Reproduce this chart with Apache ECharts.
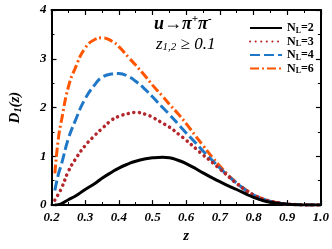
<!DOCTYPE html>
<html><head><meta charset="utf-8">
<script src="https://cdn.jsdelivr.net/npm/echarts@6/dist/echarts.min.js"></script>
<style>html,body{margin:0;padding:0;background:#fff}#c{width:332px;height:249px}</style>
</head><body><div id="c"></div>
<script>
var zValues = [0.21,0.22,0.23,0.25,0.27,0.30,0.33,0.35,0.38,0.40,0.43,0.45,0.48,0.50,0.53,0.55,0.58,0.60,0.63,0.65,0.68,0.70,0.73,0.75,0.78,0.80,0.83,0.85,0.88,0.90,0.93,0.95,0.98,1.0];
var nl2 = [0.0,0.01,0.03,0.11,0.18,0.32,0.45,0.55,0.68,0.76,0.85,0.90,0.95,0.97,0.98,0.97,0.91,0.85,0.74,0.66,0.55,0.48,0.38,0.32,0.22,0.16,0.09,0.06,0.03,0.015,0.005,0.002,0,0];
var nl3 = [0.10,0.22,0.35,0.69,0.93,1.22,1.44,1.57,1.75,1.82,1.88,1.90,1.86,1.80,1.68,1.60,1.44,1.33,1.15,1.03,0.86,0.74,0.56,0.44,0.29,0.21,0.12,0.08,0.04,0.02,0.008,0.003,0,0];
var nl4 = [0.30,0.62,0.85,1.36,1.72,2.18,2.48,2.62,2.69,2.70,2.63,2.54,2.36,2.22,2.00,1.86,1.63,1.48,1.26,1.11,0.90,0.76,0.57,0.45,0.29,0.21,0.12,0.08,0.04,0.02,0.008,0.003,0,0];
var nl6 = [0.65,1.34,1.75,2.42,2.80,3.22,3.40,3.43,3.36,3.25,3.02,2.87,2.63,2.46,2.23,2.07,1.84,1.67,1.40,1.22,0.96,0.80,0.58,0.46,0.30,0.21,0.12,0.08,0.04,0.02,0.008,0.003,0,0];
var seriesNames = ['N_L=2','N_L=3','N_L=4','N_L=6'];
var xTicks = ['0.2','0.3','0.4','0.5','0.6','0.7','0.8','0.9','1.0'];
var yTicks = ['0','1','2','3','4'];

function pairs(v){ return zValues.map(function(z,i){ return [z, v[i]]; }); }
var serif = 'Liberation Serif';
var chart = echarts.init(document.getElementById('c'), null, {renderer:'canvas'});
function axisCommon(show){
  return {
    axisLine:{show:true, onZero:false, lineStyle:{color:'#000', width:2}},
    axisTick:{show:true, inside:true, length:5, lineStyle:{color:'#000', width:1.2}},
    minorTick:{show:true, splitNumber:2, length:3, lineStyle:{color:'#000', width:1}},
    splitLine:{show:false},
    axisLabel:{show:show, color:'#000', fontFamily:serif, fontWeight:'bold', fontStyle:'italic', fontSize:13}
  };
}
var xb = Object.assign(axisCommon(true), {type:'value', position:'bottom', min:0.2, max:1.0, interval:0.1,
  name:'z', nameLocation:'middle', nameGap:22, nameTextStyle:{fontFamily:serif, fontStyle:'italic', fontWeight:'bold', fontSize:15, color:'#000'}});
xb.axisLabel.formatter = function(v){ var i = Math.round((v-0.2)/0.1); return xTicks[i] !== undefined ? xTicks[i] : ''; };
xb.axisLabel.margin = 6;
var xt = Object.assign(axisCommon(false), {type:'value', position:'top', min:0.2, max:1.0, interval:0.1});
var yl = Object.assign(axisCommon(true), {type:'value', position:'left', min:0, max:4, interval:1,
  name:'{d|D}{s|1}{d|(z)}', nameLocation:'middle', nameGap:28, nameRotate:90,
  nameTextStyle:{rich:{d:{fontFamily:serif, fontStyle:'italic', fontWeight:'bold', fontSize:15, color:'#000'}, s:{fontFamily:serif, fontStyle:'italic', fontWeight:'bold', fontSize:10, color:'#000', verticalAlign:'bottom', padding:[6,0,0,0]}}}});
yl.axisLabel.formatter = function(v){ return yTicks[Math.round(v)] || ''; };
yl.axisLabel.margin = 5;
var yr = Object.assign(axisCommon(false), {type:'value', position:'right', min:0, max:4, interval:1});

var styles = [
  {color:'#000000', type:'solid', width:3, cap:'butt'},
  {color:'#b3262b', type:[0.1,5.5], width:3.5, cap:'round'},
  {color:'#1f77c8', type:[10,4], width:3, cap:'butt'},
  {color:'#ff5500', type:[9,3,2,3], width:3, cap:'butt'}
];
var data = [nl2, nl3, nl4, nl6];
var series = data.map(function(d,i){
  return {name:seriesNames[i], type:'line', xAxisIndex:0, yAxisIndex:0, data:pairs(d), smooth:true, showSymbol:false, symbol:'none',
    lineStyle:styles[i], itemStyle:{color:styles[i].color}, z:10-i, animation:false};
});

chart.setOption({
  animation:false,
  grid:{left:47, right:7, top:10, bottom:36},
  xAxis:[xb, xt],
  yAxis:[yl, yr],
  legend:{
    orient:'vertical', left:244, top:17, itemGap:1, itemWidth:32, itemHeight:14,
    data:seriesNames,
    itemStyle:{opacity:0, borderWidth:0},
    formatter:function(n){ var p = n.split('_'); var r = p[1].split('='); return '{a|N}{b|'+r[0]+'}{a|='+r[1]+'}'; },
    textStyle:{rich:{a:{fontFamily:serif, fontWeight:'bold', fontSize:12, color:'#000'}, b:{fontFamily:serif, fontWeight:'bold', fontSize:8, color:'#000', padding:[5,0,0,0]}}}
  },
  graphic:[
    {type:'text', left:154, top:14, style:{text:'{a|u→π}{s|+}{a|π}{s|-}', rich:{a:{fontFamily:serif, fontWeight:'bold', fontStyle:'italic', fontSize:18, fill:'#000', lineHeight:20}, s:{fontFamily:serif, fontWeight:'bold', fontStyle:'italic', fontSize:11, fill:'#000', verticalAlign:'top', padding:[0,0,8,0]}}}},
    {type:'text', left:156, top:36, style:{text:'{a|z}{s|1,2}{a| ≥ 0.1}', rich:{a:{fontFamily:serif, fontStyle:'italic', fontSize:17, fill:'#000'}, s:{fontFamily:serif, fontStyle:'italic', fontSize:11, fill:'#000', padding:[6,0,0,0]}}}}
  ],
  series:series
});
</script></body></html>
